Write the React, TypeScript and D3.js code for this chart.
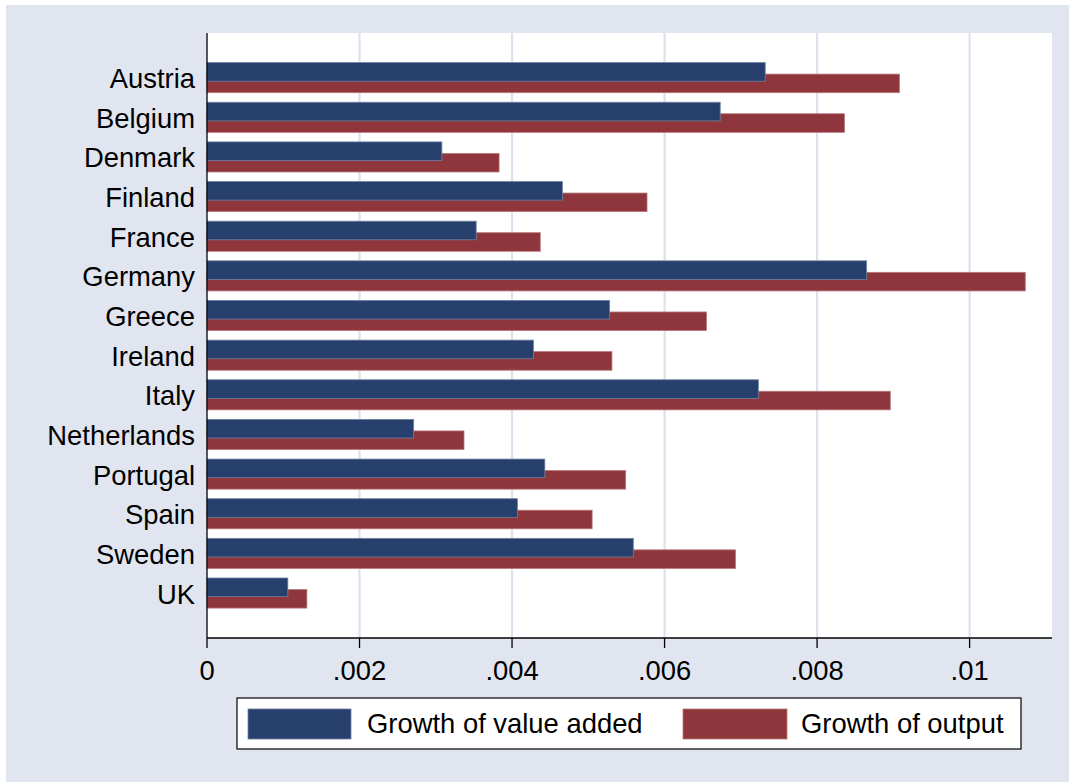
import React from "react";
import * as d3 from "d3";

const countries = ["Austria","Belgium","Denmark","Finland","France","Germany","Greece","Ireland","Italy","Netherlands","Portugal","Spain","Sweden","UK"];
const valueAdded = [0.00732,0.00673,0.00308,0.00466,0.00353,0.00865,0.00528,0.00428,0.00723,0.00271,0.00443,0.00407,0.00559,0.00106];
const output = [0.00908,0.00836,0.00383,0.00577,0.00437,0.01073,0.00655,0.00531,0.00896,0.00337,0.00549,0.00505,0.00693,0.00131];
const ticks = [0,0.002,0.004,0.006,0.008,0.01];
const tickLabels = ["0",".002",".004",".006",".008",".01"];
const seriesNames = ["Growth of value added","Growth of output"];

const W = 1069, H = 782;
const L = 207, R = 1052, T = 33, B = 638;
const BLUE = "#273f6c", RED = "#8f363c";
const BG = "#e1e5f0";
const FONT = "'Liberation Sans', Arial, sans-serif";
const FS = 27.4;

export default function App() {
  const x = d3.scaleLinear().domain([0, 0.01]).range([L, L + 762.6]);
  const y = d3.scalePoint<string>().domain(countries).range([T, B]).padding(1.13);
  const bh = 18.6;
  return (
    <svg width={W} height={H} style={{ position: "absolute", left: 0, top: 0 }} fontFamily={FONT}>
      <rect x={0} y={0} width={W} height={H} fill="#ffffff" />
      <rect x={6} y={5} width={W - 6} height={H - 5} fill={BG} />
      <rect x={L} y={T} width={R - L} height={B - T} fill="#ffffff" />
      {ticks.slice(1).map((t, i) => (
        <line key={i} x1={x(t)} x2={x(t)} y1={T} y2={B} stroke="#dde1ec" strokeWidth={2.2} />
      ))}
      {countries.map((c, i) => {
        const cy = y(c)!;
        return (
          <g key={c}>
            <rect x={x(0)} y={cy - 3.7} width={x(output[i]) - x(0)} height={bh} fill={RED} stroke="#b9787c" strokeWidth={0.8} />
            <rect x={x(0)} y={cy - 15.2} width={x(valueAdded[i]) - x(0)} height={bh} fill={BLUE} stroke="#6f82a3" strokeWidth={0.8} />
            <text x={195} y={cy + 0.5} dy="0.36em" textAnchor="end" fontSize={FS} fill="#000">{c}</text>
          </g>
        );
      })}
      <line x1={L} x2={L} y1={T} y2={B} stroke="#000" strokeWidth={1.3} />
      <line x1={L} x2={R} y1={B} y2={B} stroke="#000" strokeWidth={1.3} />
      {ticks.map((t, i) => (
        <g key={i}>
          <line x1={x(t)} x2={x(t)} y1={B} y2={B + 10} stroke="#000" strokeWidth={1.3} />
          <text x={x(t)} y={679.5} textAnchor="middle" fontSize={FS} fill="#000">{tickLabels[i]}</text>
        </g>
      ))}
      <rect x={237} y={698} width={784} height={51} fill="#fff" stroke="#000" strokeWidth={1.2} />
      <rect x={248} y={709} width={103} height={30} fill={BLUE} stroke="#6f82a3" strokeWidth={0.8} />
      <text x={367} y={733} fontSize={FS} fill="#000">{seriesNames[0]}</text>
      <rect x={683} y={709} width={104} height={30} fill={RED} stroke="#b9787c" strokeWidth={0.8} />
      <text x={801} y={733} fontSize={FS} fill="#000">{seriesNames[1]}</text>
    </svg>
  );
}
